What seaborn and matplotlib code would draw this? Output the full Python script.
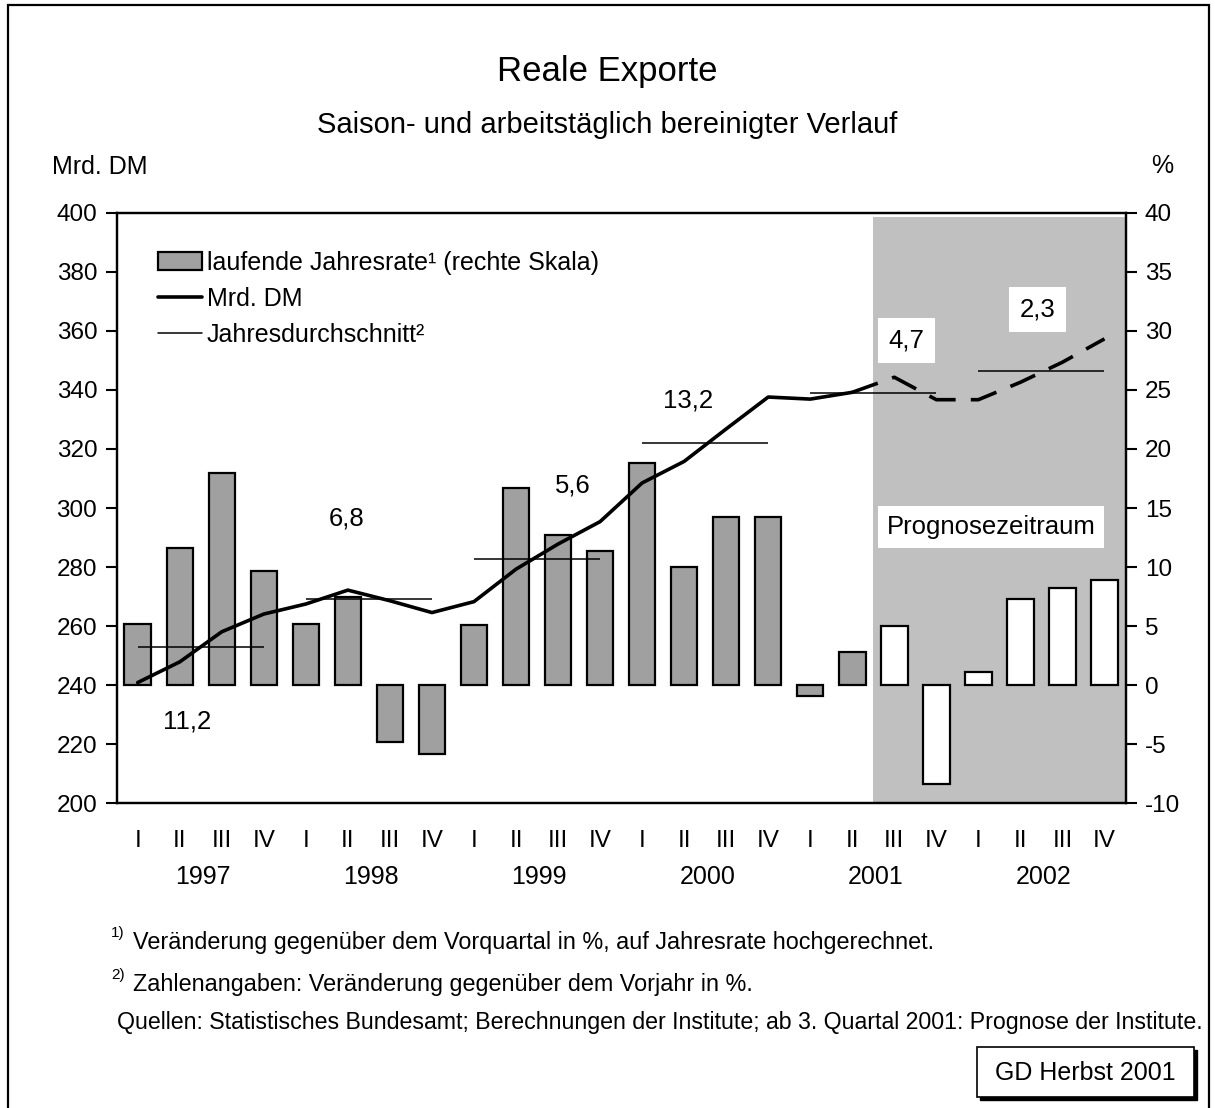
import numpy as np
import pandas as pd
import matplotlib
matplotlib.use("Agg")
import matplotlib.pyplot as plt
import matplotlib.transforms as mtransforms
from matplotlib.patches import Patch, Rectangle
from matplotlib.lines import Line2D
import seaborn as sns

# Daten
quartale = ["I", "II", "III", "IV"] * 6
jahre = ["1997", "1998", "1999", "2000", "2001", "2002"]

# laufende Jahresrate in % (rechte Skala)
jahresrate = [5.2, 11.6, 18.0, 9.7, 5.2, 7.5, -4.8, -5.8,
              5.1, 16.7, 12.7, 11.4, 18.8, 10.0, 14.2, 14.2,
              -0.9, 2.8, 5.0, -8.4, 1.1, 7.3, 8.2, 8.9]
# Reale Exporte in Mrd. DM (linke Skala)
exporte = [240.9, 247.9, 258.1, 264.1, 267.5, 272.2, 268.6, 264.6,
           268.3, 279.3, 287.8, 295.4, 308.5, 315.8, 326.8, 337.6,
           336.9, 339.2, 344.3, 336.7, 336.7, 342.6, 349.4, 357.3]
# Jahresdurchschnitt in Mrd. DM
jahresdurchschnitt = [252.9, 269.2, 282.7, 322.0, 339.0, 346.4]
# Veraenderung gegenueber Vorjahr in %
veraenderung = ["11,2", "6,8", "5,6", "13,2", "4,7", "2,3"]
prognose_ab = 18  # ab 3. Quartal 2001

W, H = 1215, 1108


def fx(px):
    return px / W


def fy(py):
    return 1 - py / H


sns.set_style("white")
plt.rcParams["font.family"] = ["Liberation Sans", "DejaVu Sans"]
plt.rcParams["axes.unicode_minus"] = False
plt.rcParams["text.color"] = "black"
plt.rcParams["xtick.color"] = "black"
plt.rcParams["ytick.color"] = "black"
plt.rcParams["xtick.labelcolor"] = "black"
plt.rcParams["ytick.labelcolor"] = "black"

q = np.arange(len(jahresrate))
df = pd.DataFrame({
    "q": q,
    "rate": jahresrate,
    "phase": np.where(q >= prognose_ab, "Prognose", "Ist"),
})

fig = plt.figure(figsize=(W / 100, H / 100), dpi=100)
ax1 = fig.add_axes([fx(116.7), fy(803.3), (1125.5 - 116.7) / W, (803.3 - 212.8) / H])
ax1.set_facecolor("white")

# Prognosezeitraum
ax1.axvspan(prognose_ab - 0.5, len(q) - 0.5, ymin=0, ymax=0.993,
            color="#c0c0c0", lw=0, zorder=0)

sns.barplot(data=df, x="q", y="rate", hue="phase",
            palette={"Ist": "#a0a0a0", "Prognose": "white"},
            dodge=False, native_scale=True, width=0.63,
            edgecolor="black", linewidth=1.6, errorbar=None,
            legend=False, ax=ax1, zorder=2)

ax1.set_xlim(-0.5, len(q) - 0.5)
ax1.set_ylim(-10, 40)
ax1.set_yticks(range(-10, 41, 5))
ax1.set_xlabel("")
ax1.set_ylabel("")

# Linke Skala: Mrd. DM
ax2 = ax1.twinx()
ax1.yaxis.tick_right()
ax2.yaxis.tick_left()
sns.lineplot(x=q[:prognose_ab], y=exporte[:prognose_ab], color="black",
             lw=2.6, ax=ax2)
sns.lineplot(x=q[prognose_ab - 1:], y=exporte[prognose_ab - 1:], color="black",
             lw=2.6, linestyle=(0, (7.5, 4.2)), ax=ax2)
for k, avg in enumerate(jahresdurchschnitt):
    ax2.hlines(avg, 4 * k, 4 * k + 3, color="black", lw=1.1)
ax2.set_ylim(200, 400)
ax2.set_yticks(range(200, 401, 20))
ax2.set_xlim(-0.5, len(q) - 0.5)

for ax in (ax1, ax2):
    for s in ax.spines.values():
        s.set_linewidth(1.6)
        s.set_color("black")
    ax.tick_params(axis="y", labelsize=17.5, length=8, width=1.5, pad=6,
                   colors="black")

# x-Achse: Quartale und Jahre
ax1.set_xticks(q)
ax1.set_xticklabels(quartale)
ax1.set_xticks(np.arange(-0.5, len(q), 4), minor=True)
ax1.tick_params(axis="x", which="major", length=0, pad=19, labelsize=17.5,
                labelcolor="black")
ax1.tick_params(axis="x", which="minor", length=8, width=1.5, direction="out",
                color="black")
trans = mtransforms.blended_transform_factory(ax1.transData, ax1.transAxes)
for k, j in enumerate(jahre):
    ax1.text(4 * k + 1.55, -0.125, j, transform=trans, ha="center",
             va="center", fontsize=18)

# Veraenderung gegenueber Vorjahr
txt_pos = [(1.17, -3.1), (4.98, 14.1), (10.35, 16.9), (13.09, 24.1),
           (18.29, 29.2), (21.41, 31.8)]
for k, (lab, (x, y)) in enumerate(zip(veraenderung, txt_pos)):
    box = None
    if 4 * k >= prognose_ab - 2:
        box = dict(boxstyle="square,pad=0.42", fc="white", ec="none")
    ax2.text(x, 200 + (y + 10) * 4, lab, ha="center", va="center",
             fontsize=18.5, bbox=box, zorder=5)

ax1.text(20.3, 13.4, "Prognosezeitraum", ha="center", va="center",
         fontsize=18.5, bbox=dict(boxstyle="square,pad=0.35", fc="white", ec="none"),
         zorder=5)

handles = [
    Patch(facecolor="#a0a0a0", edgecolor="black", lw=1.6),
    Line2D([], [], color="black", lw=2.6),
    Line2D([], [], color="black", lw=1.1),
]
labels = ["laufende Jahresrate\u00b9 (rechte Skala)", "Mrd. DM",
          "Jahresdurchschnitt\u00b2"]
ax2.legend(handles, labels, loc="upper left", bbox_to_anchor=(0.031, 0.953),
           frameon=False, fontsize=18, handlelength=1.75, handletextpad=0.2,
           labelspacing=0.48, borderaxespad=0, labelcolor="black")

# Titel und Texte
fig.text(0.5, fy(72), "Reale Exporte", ha="center", va="center", fontsize=25)
fig.text(0.5, fy(125), "Saison- und arbeitstäglich bereinigter Verlauf",
         ha="center", va="center", fontsize=21)
fig.text(fx(52), fy(167), "Mrd. DM", ha="left", va="center", fontsize=18)
fig.text(fx(1162.5), fy(166), "%", ha="center", va="center", fontsize=18)

fig.text(fx(111), fy(933), "1)", ha="left", va="center", fontsize=11)
fig.text(fx(133), fy(943), "Veränderung gegenüber dem Vorquartal in %, auf Jahresrate hochgerechnet.",
         ha="left", va="center", fontsize=16.8)
fig.text(fx(111), fy(975), "2)", ha="left", va="center", fontsize=11)
fig.text(fx(133), fy(985), "Zahlenangaben: Veränderung gegenüber dem Vorjahr in %.",
         ha="left", va="center", fontsize=16.8)
fig.text(fx(117), fy(1023), "Quellen: Statistisches Bundesamt; Berechnungen der Institute; ab 3. Quartal 2001: Prognose der Institute.",
         ha="left", va="center", fontsize=16.7)

# GD Herbst Kasten mit Schatten
fig.patches.append(Rectangle((fx(980), fy(1100)), (1197 - 980) / W, 50 / H,
                             transform=fig.transFigure, fc="black", ec="black"))
fig.patches.append(Rectangle((fx(977), fy(1097)), (1194 - 977) / W, 50 / H,
                             transform=fig.transFigure, fc="white", ec="black", lw=1.2))
fig.text(fx(1085), fy(1073), "GD Herbst 2001", ha="center", va="center", fontsize=18)

# Rahmen
fig.patches.append(Rectangle((fx(8), fy(1115)), (1209 - 8) / W, (1115 - 5) / H,
                             transform=fig.transFigure, fill=False, ec="black", lw=1.6))

fig.savefig("out.png", dpi=100)
